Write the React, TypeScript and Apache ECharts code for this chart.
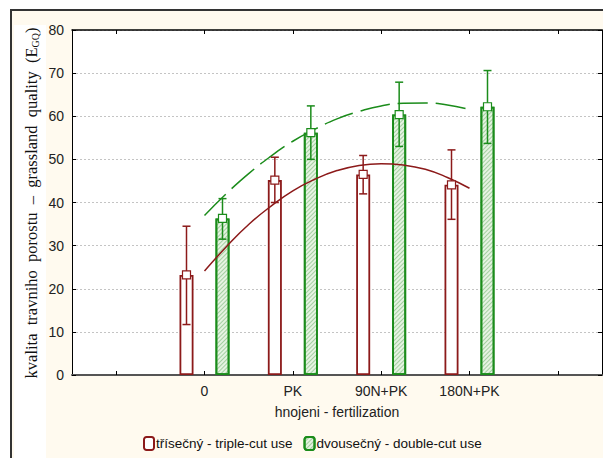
import React, { useEffect, useRef } from "react";
import * as echarts from "echarts";

const categories = ["", "0", "PK", "90N+PK", "180N+PK", ""];
const yTicks = [0, 10, 20, 30, 40, 50, 60, 70, 80];

const tripleName = "třísečný - triple-cut use";
const doubleName = "dvousečný - double-cut use";

// means, lower and upper error bounds (categories 0, PK, 90N+PK, 180N+PK)
const tripleMean = [23.2, 45.2, 46.5, 44.1];
const tripleLow = [11.7, 40.0, 42.0, 36.1];
const tripleHigh = [34.5, 50.5, 50.9, 52.2];

const doubleMean = [36.3, 56.2, 60.4, 62.2];
const doubleLow = [31.5, 50.0, 53.0, 53.7];
const doubleHigh = [40.9, 62.4, 67.9, 70.6];

// fitted trend curves at category positions 0..3
const curveX = [0, 0.25, 0.5, 0.75, 1, 1.25, 1.5, 1.75, 2, 2.25, 2.5, 2.75, 3];
const tripleCurve = [24.1, 29.8, 34.9, 39.1, 42.7, 45.4, 47.4, 48.6, 49.0, 48.7, 47.7, 45.8, 43.3];
const doubleCurve = [37.0, 42.1, 46.7, 50.7, 54.2, 57.0, 59.4, 61.1, 62.4, 63.0, 63.1, 62.6, 61.6];

const RED = "#8c1a1a";
const GREEN = "#1b8c1b";

export default function App() {
  const ref = useRef<HTMLDivElement>(null);

  useEffect(() => {
    if (!ref.current) return;
    const chart = echarts.init(ref.current, null, { renderer: "svg" });

    const pad = (arr: number[]) => [null, ...arr, null];
    const errData = (mean: number[], lo: number[], hi: number[]) =>
      mean.map((m, i) => [i + 1, m, lo[i], hi[i]]);

    const makeErr = (color: string, off: number) => (params: any, api: any) => {
      const idx = api.value(0);
      const c = api.coord([idx, api.value(1)]);
      const b = api.coord([idx, api.value(2)]);
      const t = api.coord([idx, api.value(3)]);
      const x = c[0] + off;
      const st = { stroke: color, lineWidth: 1.5 };
      return {
        type: "group",
        children: [
          { type: "line", shape: { x1: x, y1: t[1], x2: x, y2: b[1] }, style: st },
          { type: "line", shape: { x1: x - 4, y1: t[1], x2: x + 4, y2: t[1] }, style: st },
          { type: "line", shape: { x1: x - 4, y1: b[1], x2: x + 4, y2: b[1] }, style: st },
          {
            type: "rect",
            shape: { x: x - 4, y: c[1] - 4, width: 8, height: 8 },
            style: { fill: "#fff", stroke: color, lineWidth: 1.2 },
          },
        ],
      };
    };

    const sans = "Liberation Sans, Arial, sans-serif";
    const serif = "Liberation Serif, Times New Roman, serif";

    chart.setOption({
      animation: false,
      backgroundColor: "#ffffff",
      textStyle: { fontFamily: sans },
      graphic: [
        {
          type: "rect",
          z: -10,
          silent: true,
          shape: { x: 11, y: 10, width: 640, height: 500 },
          style: { fill: "#fffaef", stroke: "#333", lineWidth: 2 },
        },
        {
          type: "rect",
          z: -9,
          silent: true,
          shape: { x: 14, y: 25, width: 32, height: 440 },
          style: { fill: "#ffffff" },
        },
        {
          type: "text",
          z: 10,
          x: 31,
          y: 203,
          rotation: Math.PI / 2,
          style: {
            text: "{a|kvalita  travniho  porostu  –  grassland  quality  (E}{b|GQ}{a|)}",
            align: "center",
            verticalAlign: "middle",
            fill: "#111",
            rich: {
              a: { fontFamily: serif, fontSize: 16.5, fill: "#111", height: 18, verticalAlign: "middle" },
              b: { fontFamily: serif, fontSize: 10, fill: "#111", height: 18, padding: [8, 0, 0, 0], verticalAlign: "bottom" },
            },
          },
        },
      ],
      grid: {
        left: 72,
        right: 1,
        top: 30,
        bottom: 83,
        show: true,
        backgroundColor: "#ffffff",
        borderWidth: 0,
      },
      legend: {
        left: 138,
        top: 431,
        itemWidth: 10,
        itemHeight: 13,
        itemGap: 11,
        textStyle: { fontSize: 13.5, color: "#111", fontFamily: sans, padding: [0, 0, 0, -3] },
        data: [tripleName, doubleName],
      },
      xAxis: [
        {
          type: "category",
          position: "bottom",
          data: categories,
          boundaryGap: true,
          axisLine: { show: true, onZero: false, lineStyle: { color: "#555", width: 2 } },
          axisTick: { show: true, alignWithLabel: true, inside: true, length: 4, interval: 0, lineStyle: { color: "#000" } },
          axisLabel: { interval: 0, fontSize: 14, color: "#222", margin: 9 },
          splitLine: { show: false },
          name: "hnojeni - fertilization",
          nameLocation: "middle",
          nameGap: 30,
          nameTextStyle: { fontSize: 14, color: "#222", verticalAlign: "top" },
        },
        {
          type: "value",
          min: -1.5,
          max: 4.5,
          show: false,
          axisLine: { show: false, onZero: false },
          splitLine: { show: false },
        },
        {
          type: "category",
          position: "top",
          data: categories,
          boundaryGap: true,
          axisLine: { show: true, onZero: false, lineStyle: { color: "#000", width: 1.5 } },
          axisTick: { show: true, alignWithLabel: true, inside: true, length: 4, interval: 0, lineStyle: { color: "#000" } },
          axisLabel: { show: false },
          splitLine: { show: false },
        },
      ],
      yAxis: [
        {
          type: "value",
          min: 0,
          max: 80,
          interval: 10,
          position: "left",
          axisLine: { show: true, onZero: false, lineStyle: { color: "#000", width: 1 } },
          axisTick: { show: true, inside: true, length: 4, lineStyle: { color: "#000" } },
          axisLabel: { fontSize: 14, color: "#222", margin: 8, formatter: (v: number) => (yTicks.includes(v) ? String(v) : "") },
          splitLine: { show: true, lineStyle: { color: "#c4c4c4", type: [2, 2], width: 1 } },
        },
        {
          type: "value",
          min: 0,
          max: 80,
          interval: 10,
          position: "right",
          axisLine: { show: true, onZero: false, lineStyle: { color: "#000", width: 1 } },
          axisTick: { show: true, inside: true, length: 4, lineStyle: { color: "#000" } },
          axisLabel: { show: false },
          splitLine: { show: false },
        },
      ],
      series: [
        {
          name: tripleName,
          type: "bar",
          xAxisIndex: 0,
          yAxisIndex: 0,
          data: pad(tripleMean),
          barWidth: 14,
          barGap: "157%",
          itemStyle: { color: "#ffffff", borderColor: RED, borderWidth: 1.8 },
          z: 2,
        },
        {
          name: doubleName,
          type: "bar",
          xAxisIndex: 0,
          yAxisIndex: 0,
          data: pad(doubleMean),
          barWidth: 14,
          itemStyle: {
            color: "#e6f3e2",
            borderColor: GREEN,
            borderWidth: 1.8,
            decal: {
              symbol: "rect",
              symbolSize: 1,
              dashArrayX: [1, 0],
              dashArrayY: [1, 2],
              rotation: -Math.PI / 4,
              color: "rgba(40,140,40,0.35)",
            },
          },
          z: 2,
        },
        {
          type: "line",
          xAxisIndex: 1,
          yAxisIndex: 0,
          data: curveX.map((x, i) => [x, tripleCurve[i]]),
          smooth: true,
          showSymbol: false,
          lineStyle: { color: RED, width: 1.5 },
          z: 3,
          silent: true,
        },
        {
          type: "line",
          xAxisIndex: 1,
          yAxisIndex: 0,
          data: curveX.map((x, i) => [x, doubleCurve[i]]),
          smooth: true,
          showSymbol: false,
          lineStyle: { color: GREEN, width: 1.5, type: [30, 8] },
          z: 3,
          silent: true,
        },
        {
          type: "custom",
          xAxisIndex: 0,
          yAxisIndex: 0,
          renderItem: makeErr(RED, -18),
          data: errData(tripleMean, tripleLow, tripleHigh),
          encode: { x: 0, y: [1, 2, 3] },
          z: 4,
        },
        {
          type: "custom",
          xAxisIndex: 0,
          yAxisIndex: 0,
          renderItem: makeErr(GREEN, 18),
          data: errData(doubleMean, doubleLow, doubleHigh),
          encode: { x: 0, y: [1, 2, 3] },
          z: 4,
        },
      ],
    });

    return () => chart.dispose();
  }, []);

  return (
    <div
      ref={ref}
      style={{ position: "absolute", left: 0, top: 0, width: 603, height: 458 }}
    />
  );
}
